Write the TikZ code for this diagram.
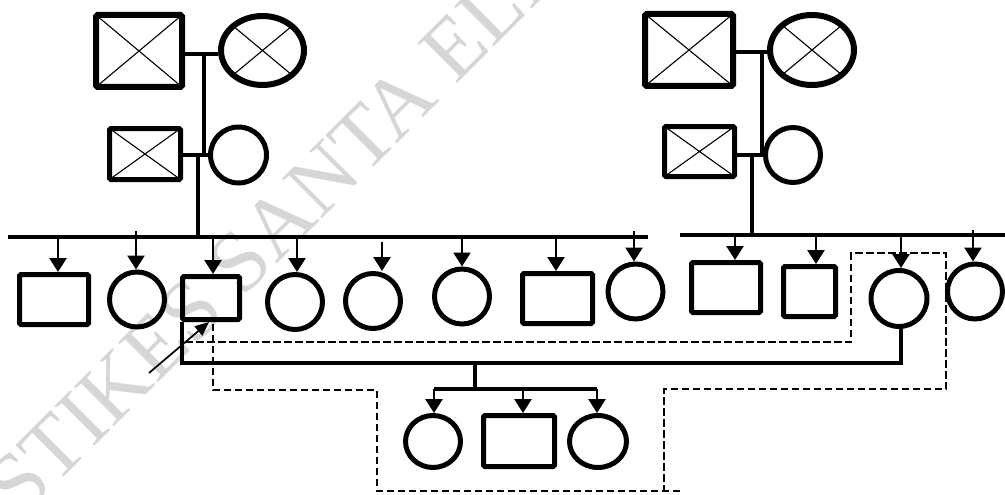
\documentclass[tikz,border=0pt]{standalone}
\usepackage{fontspec}
\usetikzlibrary{arrows.meta,shapes.geometric}
\newfontfamily\wmfont{Liberation Serif}
\definecolor{wmgray}{RGB}{214,214,214}

\begin{document}
\begin{tikzpicture}[x=1pt,y=-1pt,
  male/.style={rectangle,draw,line width=5pt,rounded corners=1.5pt,inner sep=0pt},
  female/.style={ellipse,draw,line width=5pt,inner sep=0pt},
  elder/.style={line width=6pt},
  crossed/.style={path picture={
      \draw[line width=1.1pt]
        (path picture bounding box.north west) -- (path picture bounding box.south east)
        (path picture bounding box.north east) -- (path picture bounding box.south west);}},
  link/.style={line width=3.6pt},
  sibline/.style={line width=4pt},
  drop/.style={line width=2.6pt,-{Triangle[width=17pt,length=14pt]}},
  household/.style={line width=2.5pt,dash pattern=on 7.5pt off 3.5pt},
  pointer/.style={line width=1.7pt,-{Triangle[width=12pt,length=14pt]}},
]
\useasboundingbox (0,0) rectangle (1005,495);

% background mark
\begin{scope}
  \clip (0,0) rectangle (1005,495);
  \node[anchor=base west,rotate=45,inner sep=0pt,text=wmgray,
        font=\wmfont\fontsize{86}{86}\selectfont] (mark) at (21,520) {STIKES SANTA ELI};
\end{scope}

% ---------- maternal side (left) ----------
\node[male,crossed,elder,minimum width=86pt,minimum height=72pt] (gfA) at (139,51) {};
\node[female,crossed,elder,minimum width=83pt,minimum height=69pt] (gmA) at (262.5,50.5) {};
\node[male,crossed,minimum width=71pt,minimum height=51pt] (faA) at (145,154) {};
\node[female,minimum width=56pt,minimum height=56pt] (moA) at (238.5,155) {};

\coordinate (jA) at (204,54);
\coordinate (kA) at (198,155);
\coordinate (sibA) at (8,237);
\coordinate (sibAend) at (648,237);
\draw[link] (gfA.east |- jA) -- (gmA.west |- jA);
\draw[link] (jA) -- (jA |- kA);
\draw[link] (faA.east |- kA) -- (moA.west |- kA);
\draw[link] (kA) -- (kA |- sibA);
\draw[sibline] (sibA) -- (sibAend);

% ---------- paternal side (right) ----------
\node[male,crossed,elder,minimum width=88pt,minimum height=72pt] (gfB) at (689,50) {};
\node[female,crossed,elder,minimum width=84pt,minimum height=70pt] (gmB) at (812,50) {};
\node[male,crossed,minimum width=70pt,minimum height=50pt] (faB) at (699.5,151.5) {};
\node[female,minimum width=55pt,minimum height=55pt] (moB) at (793,155) {};

\coordinate (jB) at (762,52);
\coordinate (kB) at (752,155);
\coordinate (sibB) at (680,235);
\coordinate (sibBend) at (1005,235);
\draw[link] (gfB.east |- jB) -- (gmB.west |- jB);
\draw[link] (jB) -- (jB |- kB);
\draw[link] (faB.east |- kB) -- (moB.west |- kB);
\draw[link] (kB) -- (kB |- sibB);
\draw[sibline] (sibB) -- (sibBend);

% ---------- sibship of the proband ----------
\node[male,minimum width=69pt,minimum height=50pt] (c1) at (54,299.5) {};
\node[female,minimum width=55pt,minimum height=55pt] (c2) at (137,299.5) {};
\node[male,minimum width=57pt,minimum height=43pt] (c3) at (211,298) {};
\node[female,minimum width=55pt,minimum height=55pt] (c4) at (295,302) {};
\node[female,minimum width=55pt,minimum height=55pt] (c5) at (373,301) {};
\node[female,minimum width=55pt,minimum height=55pt] (c6) at (462,296.5) {};
\node[male,minimum width=70pt,minimum height=50pt] (c7) at (557.5,298.5) {};
\node[female,minimum width=55pt,minimum height=55pt] (c8) at (635.5,291.5) {};

% drop lines start on (or just off) the sibship line
\foreach \n/\x/\y in {c1/58/237,c2/136/231,c3/213/237,c4/297/237,c5/382/242,c6/462/237,c7/556/237,c8/634/231}{
  \coordinate (t\n) at (\x,\y);
  \draw[drop] (t\n) -- (t\n |- \n.north);
}

% ---------- sibship of the spouse ----------
\node[male,minimum width=69pt,minimum height=50pt] (c9) at (726,287.5) {};
\node[male,minimum width=52pt,minimum height=50pt] (c10) at (809.5,291.5) {};
\node[female,minimum width=56pt,minimum height=56pt] (c11) at (899,298.5) {};
\node[female,minimum width=55pt,minimum height=55pt] (c12) at (975,291.5) {};

\foreach \n/\x/\y in {c9/735/235,c10/816/235,c11/901/235,c12/973/230}{
  \coordinate (t\n) at (\x,\y);
  \draw[drop] (t\n) -- (t\n |- \n.north);
}

% ---------- marriage of the proband and offspring ----------
\coordinate (pm1) at (182,363);
\coordinate (pm2) at (901,363);
\coordinate (pd) at (475,363);
\coordinate (kl) at (475,389);
\draw[link] (pm1 |- c3.south) -- (pm1) -- (pm2) -- (pm2 |- c11.south);
\draw[link] (pd) -- (kl);

\node[female,minimum width=55pt,minimum height=52pt] (k1) at (433,441.5) {};
\node[male,minimum width=71pt,minimum height=51pt] (k2) at (519,441) {};
\node[female,minimum width=57pt,minimum height=52pt] (k3) at (598,441.5) {};

\coordinate (kl1) at (434,389);
\coordinate (kl2) at (523,389);
\coordinate (kl3) at (597,389);
\draw[link] (kl1) -- (kl3);
\foreach \k in {1,2,3}{
  \draw[drop] (kl\k) -- (kl\k |- k\k.north);
}

% ---------- proband pointer ----------
\coordinate (pa) at (149,373);
\coordinate (ptip) at (209,0);
\draw[pointer] (pa) -- (ptip |- c3.south);

% ---------- household boundary ----------
\coordinate (h0) at (185,342);
\coordinate (h1) at (851,342);
\coordinate (h2) at (851,253);
\coordinate (h3) at (946,253);
\coordinate (h4) at (946,389);
\coordinate (h5) at (664,389);
\coordinate (h6) at (664,491);
\coordinate (h7) at (680,491);
\coordinate (h8) at (377,491);
\coordinate (h9) at (377,390);
\coordinate (h10) at (213,390);
\draw[household] (h0) -- (h1) -- (h2) -- (h3) -- (h4) -- (h5) -- (h6);
\draw[household] (h7) -- (h8) -- (h9) -- (h10) -- (h10 |- c3.south);

\end{tikzpicture}
\end{document}
